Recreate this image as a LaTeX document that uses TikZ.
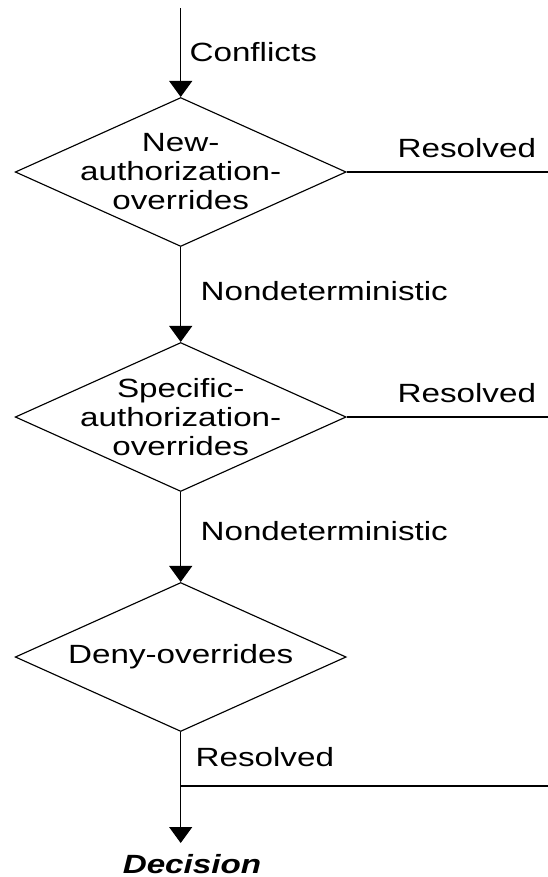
\documentclass[tikz,border=0pt]{standalone}
\usepackage{fontspec}
\setmainfont{Liberation Sans}[FakeStretch=1.26]
\usetikzlibrary{shapes.geometric,arrows.meta}
\begin{document}
\begin{tikzpicture}[x=0.02cm,y=-0.02cm,line width=0.65pt,
  font=\fontsize{15}{16.5}\selectfont,
  decision/.style={draw,diamond,inner sep=0pt,minimum width=6.62cm,minimum height=2.98cm},
  lbl/.style={anchor=base west,inner sep=0pt},
  flow/.style={-{Triangle[width=0.46cm,length=0.32cm]}}]
\useasboundingbox (0,0) rectangle (548,877);
% the three overriding policies
\node[decision] (newauth) at (180.7,172) {};
\node[align=center] (newauthtxt) at (newauth) {New-\\authorization-\\overrides};
\node[decision] (specauth) at (180.7,417) {};
\node[align=center] (specauthtxt) at (specauth) {Specific-\\authorization-\\overrides};
\node[decision] (deny) at (180.7,657) {};
\node (denytxt) at (deny) {Deny-overrides};
\node[anchor=base,inner sep=0pt] (decision) at (192,873) {\textbf{\textit{Decision}}};
% free ends
\coordinate (start) at (180.7,8.3);
\coordinate (res1) at (548,172);
\coordinate (res2) at (548,417);
\coordinate (join) at (180.7,786);
\coordinate (res3) at (548,786);
\coordinate (decin) at (180.7,843);
% flow
\draw[flow] (start) -- (newauth.north);
\draw[flow] (newauth.south) -- (specauth.north);
\draw[flow] (specauth.south) -- (deny.north);
\draw[flow] (deny.south) -- (decin);
\draw (newauth.east) -- (res1);
\draw (specauth.east) -- (res2);
\draw (join) -- (res3);
% labels
\node[lbl] (conflicts) at (189,61) {Conflicts};
\node[lbl] (resolved1) at (397,157.5) {Resolved};
\node[lbl] (nondet1) at (200,300) {Nondeterministic};
\node[lbl] (resolved2) at (397,402) {Resolved};
\node[lbl] (nondet2) at (200,540.7) {Nondeterministic};
\node[lbl] (resolved3) at (195,766.7) {Resolved};
\end{tikzpicture}
\end{document}
